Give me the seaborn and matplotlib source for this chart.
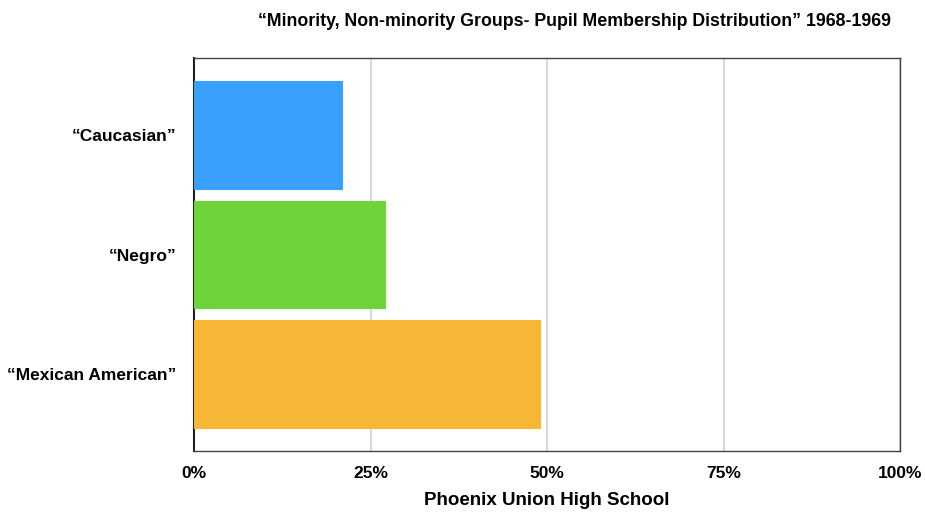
import matplotlib
matplotlib.use("Agg")
import matplotlib.pyplot as plt
import seaborn as sns
import pandas as pd
from matplotlib.ticker import FixedLocator

groups = ["\u201cCaucasian\u201d", "\u201cNegro\u201d", "\u201cMexican American\u201d"]
shares = [21.0, 27.0, 49.0]
colors = ["#3AA0FD", "#6FD439", "#F5B735"]
x_ticks = [0, 25, 50, 75, 100]
x_tick_labels = ["0%", "25%", "50%", "75%", "100%"]

title = "\u201cMinority, Non-minority Groups- Pupil Membership Distribution\u201d 1968-1969"
x_label = "Phoenix Union High School"

df = pd.DataFrame({"group": groups, "share": shares})

sns.set_theme(style="white")
plt.rcParams["font.family"] = ["Liberation Sans", "DejaVu Sans"]

fig = plt.figure(figsize=(9.25, 5.13), dpi=100)
ax = fig.add_axes([194 / 925, 1 - 451 / 513, 706 / 925, 393 / 513])

sns.barplot(data=df, x="share", y="group", hue="group", palette=colors,
            order=groups, hue_order=groups, width=0.9, legend=False,
            saturation=1, ax=ax, zorder=3)
for p, c in zip(ax.patches, colors):
    p.set_edgecolor(c)
    p.set_linewidth(0.8)

ax.set_xlim(0, 100)
ax.set_ylim(2.64, -0.64)
ax.xaxis.set_major_locator(FixedLocator(x_ticks))
ax.set_xticklabels(x_tick_labels)
ax.grid(axis="x", color="#cfcfcf", linewidth=1.2, zorder=0)
ax.grid(axis="y", visible=False)
ax.set_axisbelow(True)

for s in ["top", "right", "bottom"]:
    ax.spines[s].set_color("#444444")
    ax.spines[s].set_linewidth(1.0)
ax.spines["left"].set_color("#222222")
ax.spines["left"].set_linewidth(1.5)

ax.tick_params(axis="x", length=0, pad=11, labelsize=12.5)
ax.tick_params(axis="y", length=0, pad=13, labelsize=12.5)
for lbl in ax.get_xticklabels() + ax.get_yticklabels():
    lbl.set_fontweight("bold")
    lbl.set_color("black")

ax.set_ylabel("")
ax.set_xlabel(x_label, fontsize=13.5, fontweight="bold", labelpad=8, color="black")
fig.text(575 / 925, 1 - 21 / 513, title, ha="center", va="center",
         fontsize=12.8, fontweight="bold", color="black")

fig.savefig("out.png", dpi=100, facecolor="white")
